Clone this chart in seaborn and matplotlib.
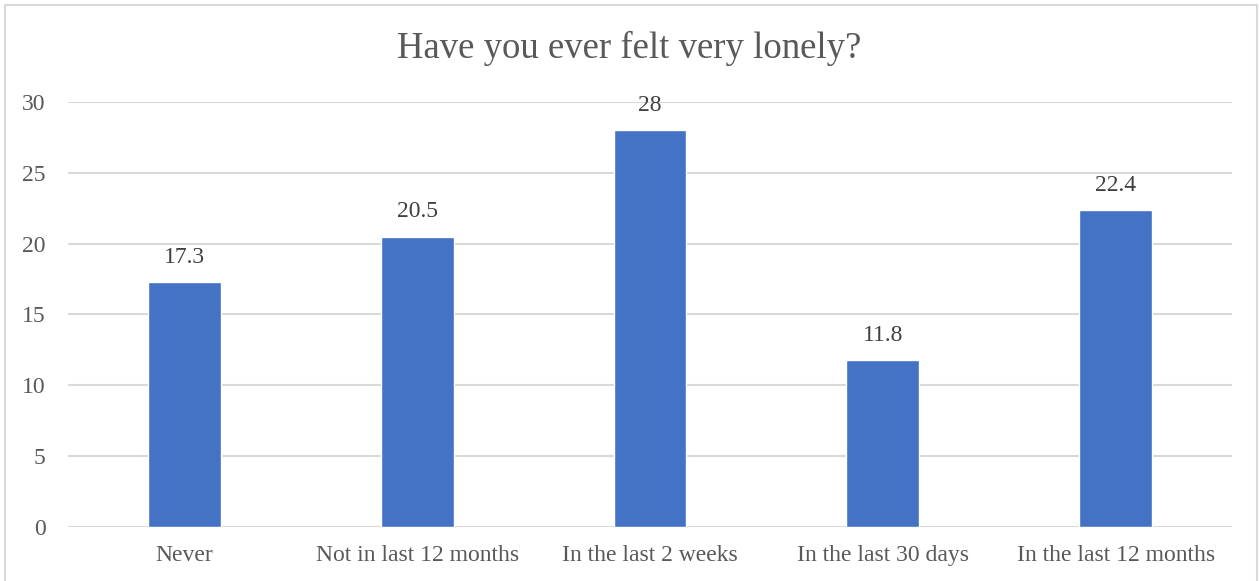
import matplotlib
matplotlib.use("Agg")
import matplotlib.pyplot as plt
import seaborn as sns
import pandas as pd
from matplotlib.patches import Rectangle

# Chart data
categories = ["Never", "Not in last 12 months", "In the last 2 weeks",
              "In the last 30 days", "In the last 12 months"]
values = [17.3, 20.5, 28, 11.8, 22.4]
value_labels = ["17.3", "20.5", "28", "11.8", "22.4"]
y_ticks = [0, 5, 10, 15, 20, 25, 30]

df = pd.DataFrame({"category": categories, "value": values})

sns.set_theme(style="white")
plt.rcParams["font.family"] = ["Liberation Serif", "DejaVu Serif"]
text_color = "#595959"
grid_color = "#D9D9D9"

fig = plt.figure(figsize=(12.59, 5.81), dpi=100)
ax = fig.add_axes([0.054, 0.093, 0.9246, 0.7314])

sns.barplot(data=df, x="category", y="value", color="#4472C4",
            width=0.313, saturation=1, ax=ax, zorder=3)

ax.set_xlim(-0.5, len(categories) - 0.5)
ax.set_ylim(0, 30)
ax.set_yticks(y_ticks)
ax.set_yticklabels([str(t) for t in y_ticks])
for t in y_ticks:
    ax.axhline(t, color=grid_color, linewidth=1.5 if t else 2.2, zorder=1)

for i, (v, lab) in enumerate(zip(values, value_labels)):
    ax.text(i, v + 1.0, lab, ha="center", va="bottom", fontsize=17,
            color="#404040")

for s in ax.spines.values():
    s.set_visible(False)
ax.tick_params(axis="both", length=0, labelsize=17, labelcolor=text_color)
ax.tick_params(axis="y", pad=16)
ax.tick_params(axis="x", pad=13)
ax.set_xlabel("")
ax.set_ylabel("")

fig.text(0.5, 0.917, "Have you ever felt very lonely?", ha="center",
         va="center", fontsize=26.5, color=text_color)

fig.patches.append(Rectangle((5 / 1259, -0.01), 1252 / 1259, 1 - 5 / 581 + 0.01,
                             transform=fig.transFigure, fill=False,
                             edgecolor=grid_color, linewidth=1.5))

fig.savefig("out.png", dpi=100)
